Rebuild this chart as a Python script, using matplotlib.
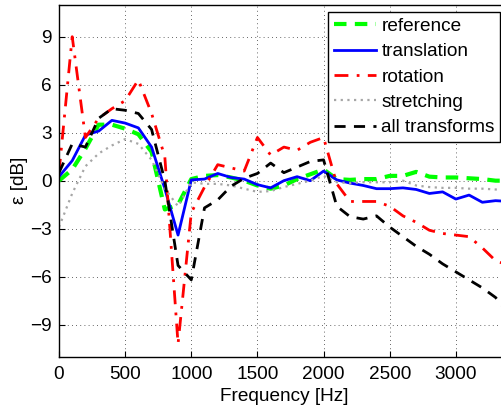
import numpy as np
import matplotlib
matplotlib.use('Agg')
import matplotlib.pyplot as plt

plt.rcParams['font.family'] = ['Liberation Sans', 'DejaVu Sans']

## frequency axis, 100 Hz steps
freq = np.arange(0, 3500, 100)

## error per transform [dB]
reference = [0.0, 0.7, 2.0, 3.5, 3.5, 3.25, 2.9, 1.8, -1.8, -1.5,
             0.1, 0.3, 0.35, 0.2, 0.0, -0.3, -0.5, -0.3, 0.1, 0.4,
             0.7, 0.1, 0.05, 0.1, 0.1, 0.3, 0.3, 0.55, 0.25, 0.2,
             0.2, 0.15, 0.1, 0.0, 0.0]
translation = [0.25, 1.25, 2.85, 3.1, 3.77, 3.6, 3.3, 2.1, -0.5, -3.4,
               0.05, 0.1, 0.45, 0.2, 0.1, -0.25, -0.45, 0.0, 0.25, 0.0,
               0.6, 0.05, -0.15, -0.3, -0.5, -0.5, -0.45, -0.55, -0.8, -0.7,
               -1.15, -0.9, -1.35, -1.25, -1.3]
rotation = [0.5, 9.0, 2.7, 3.9, 4.5, 5.0, 6.3, 4.2, 1.5, -10.2,
            -2.0, -0.4, 1.0, 0.8, 0.6, 2.7, 1.6, 2.1, 1.9, 2.4,
            2.7, -0.2, -1.3, -1.3, -1.3, -1.6, -2.2, -2.6, -3.1, -3.3,
            -3.4, -3.5, -4.2, -5.0, -5.3]
stretching = [-2.9, -0.8, 0.9, 1.7, 2.2, 2.6, 2.3, 1.3, -0.5, -1.6,
              -0.1, -0.2, -0.2, -0.3, -0.5, -0.7, -0.65, -0.4, -0.2, 0.0,
              0.3, -0.1, -0.15, -0.1, -0.1, -0.1, 0.0, -0.3, -0.4, -0.45,
              -0.45, -0.5, -0.5, -0.55, -0.6]
all_transforms = [0.5, 2.3, 2.1, 3.9, 4.5, 4.4, 4.2, 3.2, 0.0, -5.3,
                  -6.2, -1.7, -1.2, -0.35, 0.15, 0.45, 1.1, 0.5, 0.85, 1.2,
                  1.3, -1.6, -2.25, -2.4, -2.2, -2.9, -3.5, -4.1, -4.6, -5.2,
                  -5.7, -6.2, -6.7, -7.3, -8.3]

xticks = [0, 500, 1000, 1500, 2000, 2500, 3000]
yticks = [-9, -6, -3, 0, 3, 6, 9]


def main():
    fs = 13.7
    fig = plt.figure(figsize=(5.02, 4.09), dpi=100)
    ## axes runs past the right border of the figure
    ax = fig.add_axes([0.1175, 0.128, 0.896, 0.8605])

    ax.plot(freq, reference, '--', color=(0, 1, 0), lw=3.0, dashes=(3, 2), label='reference')
    ax.plot(freq, translation, '-', color=(0, 0, 1), lw=2.0, label='translation')
    ax.plot(freq, rotation, '-.', color=(1, 0, 0), lw=2.0, dashes=(5, 3, 1, 3), label='rotation')
    ax.plot(freq, stretching, ':', color=(0.65, 0.65, 0.65), lw=1.6, dashes=(1, 2), label='stretching')
    ax.plot(freq, all_transforms, '--', color='black', lw=2.0, dashes=(4, 3), label='all transforms')

    ax.set_xlim(0, 3400)
    ax.set_ylim(-11, 11)
    ax.set_xticks(xticks)
    ax.set_yticks(yticks)
    ax.tick_params(direction='in', labelsize=fs, length=4, width=0.8, pad=5)
    ax.tick_params(axis='x', pad=7)
    ax.grid(True, linestyle=(0, (1, 4)), color='black', lw=0.6, alpha=0.8)
    for sp in ax.spines.values():
        sp.set_linewidth(1.0)

    ax.set_xlabel('Frequency [Hz]', fontsize=fs, labelpad=3)
    ax.set_ylabel('ε [dB]', fontsize=fs, labelpad=2)

    leg = ax.legend(loc='upper left', bbox_to_anchor=(328 / 502, 1 - 12 / 409),
                    bbox_transform=fig.transFigure, fontsize=fs, handlelength=2.2,
                    handletextpad=0.3, labelspacing=0.42, borderpad=0.3,
                    borderaxespad=0.0, fancybox=False, framealpha=1.0,
                    edgecolor='black')
    leg.get_frame().set_linewidth(1.0)

    fig.savefig('out.png', dpi=100)
    return 0


if __name__ == '__main__':
    import sys
    sys.exit(main())
